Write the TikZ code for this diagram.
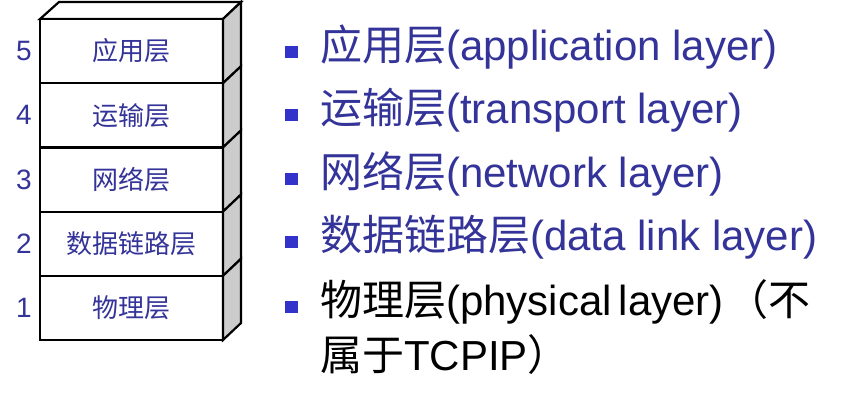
\documentclass[tikz,border=0pt]{standalone}
\usepackage{fontspec}
\setmainfont{Liberation Sans}
\newfontfamily\cjk{Noto Sans CJK SC}
\definecolor{ink}{HTML}{333399}
\definecolor{mark}{HTML}{3333CC}
\definecolor{sidegray}{HTML}{CCCCCC}
\begin{document}
\begin{tikzpicture}[x=1bp,y=-1bp,
  layerbox/.style={draw=black,line width=2.2bp,fill=white,minimum width=183bp,
    minimum height=64.2bp,inner sep=0pt,outer sep=0pt,text=ink,
    font=\cjk\fontsize{26bp}{30bp}\selectfont},
  sidepanel/.style={fill=sidegray,draw=black,line width=2.2bp,line join=miter},
  layernum/.style={inner sep=0pt,text=ink,font=\fontsize{28bp}{32bp}\selectfont},
  bulletmark/.style={fill=mark,draw=none,minimum width=13bp,minimum height=12bp,inner sep=0pt},
  item/.style={anchor=base west,inner sep=0pt,font=\fontsize{42bp}{50bp}\selectfont},
]
\useasboundingbox (0,0) rectangle (860,407);

% top face of the stack
\filldraw[fill=white,draw=black,line width=2.2bp,line join=miter]
  (40,19) -- (59,2) -- (241,2) -- (223,19) -- cycle;

% the five layers, each with its own shaded side panel
\foreach \k/\label/\yc in {5/应用层/51.1, 4/运输层/115.3, 3/网络层/179.5,
                            2/数据链路层/243.7, 1/物理层/307.9} {
  \node[layerbox] (l\k) at (131.5,\yc) {\label};
  \draw[sidepanel] (l\k.north east) -- ++(18,-17) -- ([shift={(18,-17)}]l\k.south east)
    -- (l\k.south east) -- cycle;
  \node[layernum] (n\k) at (24,\yc) {\k};
}

% bulleted list of layer names
\foreach \k/\yb in {1/60, 2/123, 3/187, 4/250, 5/315} {
  \node[bulletmark] (b\k) at (291.5,\yb-8.5) {};
}
\node[item,text=ink] (t1) at (320,60)  {{\cjk 应用层}(application layer)};
\node[item,text=ink] (t2) at (320,123) {{\cjk 运输层}(transport layer)};
\node[item,text=ink] (t3) at (320,187) {{\cjk 网络层}(network layer)};
\node[item,text=ink] (t4) at (320,250) {{\cjk 数据链路层}(data link layer)};
\node[item,text=black] (t5) at (320,315) {{\cjk 物理层}(physical\hspace{7bp}layer)\hspace{3bp}{\cjk （不}};
\node[item,text=black] (t6) at (320,370) {{\cjk 属于}TCPIP{\cjk ）}};
\end{tikzpicture}
\end{document}
